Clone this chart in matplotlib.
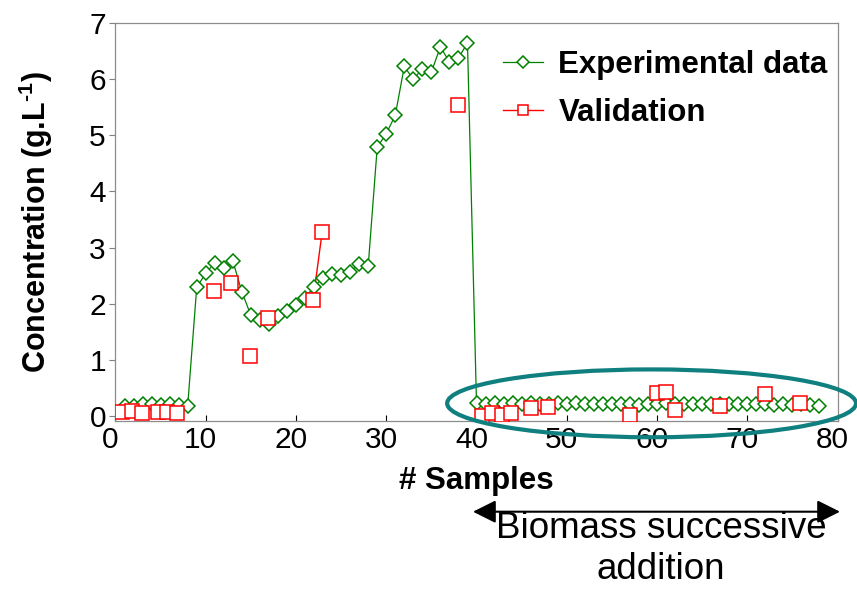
import numpy as np
import matplotlib
matplotlib.use("Agg")
from matplotlib import pyplot as plt
from matplotlib.patches import Ellipse, FancyArrowPatch
from matplotlib.lines import Line2D
from matplotlib.transforms import ScaledTranslation

plt.rcParams['font.family'] = ['Liberation Sans', 'DejaVu Sans']
plt.rcParams['mathtext.fontset'] = 'custom'
plt.rcParams['mathtext.bf'] = 'Liberation Sans:bold'
plt.rcParams['mathtext.rm'] = 'Liberation Sans:bold'
plt.rcParams['mathtext.default'] = 'bf'

# experimental data, samples 1..78
exp_x = list(range(1, 79))
exp_y = [0.18, 0.18, 0.21, 0.20, 0.19, 0.21, 0.19, 0.18, 2.29, 2.54,
         2.73, 2.63, 2.76, 2.21, 1.79, 1.71, 1.63, 1.77, 1.87, 1.97,
         2.10, 2.30, 2.46, 2.53, 2.51, 2.57, 2.70, 2.67, 4.79, 5.03,
         5.36, 6.23, 6.00, 6.19, 6.13, 6.58, 6.31, 6.38, 6.65,
         0.22, 0.21, 0.22, 0.21, 0.22, 0.21, 0.22, 0.20, 0.21, 0.22,
         0.21, 0.22, 0.21, 0.20, 0.21, 0.21, 0.20, 0.21, 0.19, 0.20,
         0.21, 0.22, 0.20, 0.21, 0.20, 0.21, 0.21, 0.20, 0.21, 0.20,
         0.21, 0.20, 0.21, 0.19, 0.20, 0.19, 0.20, 0.19, 0.18]

# validation points
val_x = [0.7, 1.8, 2.9, 4.7, 5.7, 6.8, 10.9, 12.8, 14.9, 16.9,
         21.9, 22.9, 37.9, 40.6, 41.7, 42.8, 43.8, 46.0, 47.9, 57.0,
         60.0, 61.0, 62.0, 67.0, 72.0, 75.9]
val_y = [0.06, 0.08, 0.04, 0.06, 0.06, 0.04, 2.23, 2.37, 1.06, 1.74,
         2.07, 3.28, 5.54, 0.00, 0.04, 0.01, 0.04, 0.13, 0.16, 0.01,
         0.40, 0.42, 0.10, 0.18, 0.39, 0.22]
val_joined = (10, 12)  # only these consecutive validation points are linked

x_ticks = [0, 10, 20, 30, 40, 50, 60, 70, 80]
y_ticks = [0, 1, 2, 3, 4, 5, 6, 7]

green = '#008000'
red = '#ff0000'
teal = '#0f7f7f'

fig = plt.figure(figsize=(8.57, 5.9), dpi=100)
W, H = 857, 590
ax = fig.add_axes([115.5 / W, 1 - 420.7 / H, (837.5 - 115.5) / W, (420.7 - 23.3) / H])

# lines first, then markers (as the original spreadsheet draws them)
ax.plot(val_x[val_joined[0]:val_joined[1]], val_y[val_joined[0]:val_joined[1]],
        color=red, lw=1.0, zorder=2)
ax.plot(exp_x, exp_y, color=green, lw=0.9, zorder=2)
ax.plot(exp_x, exp_y, ls='none', marker='D', ms=7, mfc='white', mec=green,
        mew=1.1, zorder=3)
ax.plot(val_x, val_y, ls='none', marker='s', ms=9.4, mfc='white', mec=red,
        mew=1.1, zorder=4)

ax.set_xlim(0, 80)
ax.set_ylim(-0.09, 7)
ax.set_xticks(x_ticks)
ax.set_yticks(y_ticks)
ax.tick_params(axis='x', direction='in', length=4.3, width=0.8, color='black',
               labelsize=21.5, pad=3.7)
ax.tick_params(axis='y', direction='out', length=4, width=0.8, color='#808080',
               labelsize=21.5, pad=2.9)
for lab in ax.get_xticklabels():
    lab.set_transform(lab.get_transform() + ScaledTranslation(-5 / 100, 0, fig.dpi_scale_trans))
for sp in ax.spines.values():
    sp.set_color('#8c8c8c')
    sp.set_linewidth(0.9)

ax.set_xlabel('# Samples', fontsize=22.5, fontweight='bold', labelpad=9)
ax.set_ylabel(r'Concentration (g.L$^{\text{-1}}$)', fontsize=22, fontweight='bold', labelpad=25)

handles = [
    Line2D([], [], color=green, lw=0.9, marker='D', ms=6, mfc='white', mec=green, mew=1.1),
    Line2D([], [], color=red, lw=1.0, marker='s', ms=7.5, mfc='white', mec=red, mew=1.1),
]
fig.legend(handles, ['Experimental data', 'Validation'], loc='upper left',
           bbox_to_anchor=(502.7 / W, 1 - 50 / H), bbox_transform=fig.transFigure,
           frameon=False, borderpad=0, borderaxespad=0, handlelength=1.3,
           handletextpad=0.48, labelspacing=0.58,
           prop={'size': 22.5, 'weight': 'bold'})

# highlight of the biomass addition region
ell = Ellipse((59.4, 0.22), 45.3, 1.21, fill=False, edgecolor=teal, lw=3,
              clip_on=False, zorder=6)
ax.add_patch(ell)

arrow = FancyArrowPatch((473 / W, 1 - 511.7 / H), (840 / W, 1 - 511.7 / H),
                        transform=fig.transFigure,
                        arrowstyle='<|-|>,head_length=0.7,head_width=0.35',
                        mutation_scale=20, color='black', lw=1.5,
                        shrinkA=0, shrinkB=0)
fig.add_artist(arrow)
fig.text(661 / W, 1 - 511 / H, 'Biomass successive\naddition', ha='center',
         va='top', fontsize=26.5, linespacing=1.22, multialignment='center')

fig.savefig('out.png', dpi=100)
